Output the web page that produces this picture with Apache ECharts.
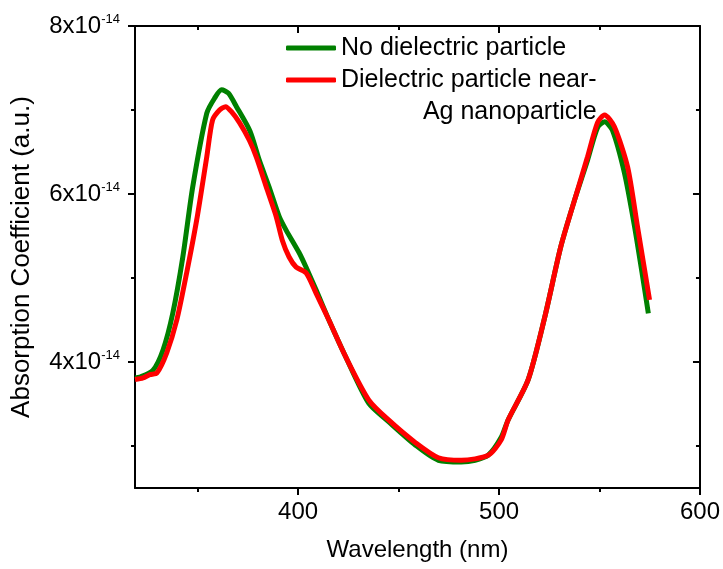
<!DOCTYPE html>
<html>
<head>
<meta charset="utf-8">
<script src="https://cdn.jsdelivr.net/npm/echarts@6/dist/echarts.min.js"></script>
<style>
html,body{margin:0;padding:0;background:#fff;}
#main{width:723px;height:569px;}
</style>
</head>
<body>
<div id="main"></div>
<script>
// values are in units of 1e-14
var seriesNames = ['No dielectric particle', 'Dielectric particle near-Ag nanoparticle'];

var noDielWl = [318.8, 321.3, 327.7, 332.7, 337.6, 342.6, 347.5, 354.5, 358.4, 361.9, 365.3, 369.3, 376.0, 380.7, 385.6, 390.6, 394.0, 400.5, 403.9, 408.9, 415.3, 423.7, 435.1, 445.0, 458.4, 469.8, 481.2, 488.1, 494.6, 501.0, 504.5, 514.5, 522.8, 530.7, 537.6, 544.0, 549.0, 552.5, 556.4, 562.4, 567.3, 571.3, 574.3];
var noDielAbs = [3.81, 3.82, 3.90, 4.14, 4.58, 5.25, 6.08, 6.96, 7.14, 7.24, 7.20, 7.04, 6.75, 6.40, 6.08, 5.73, 5.57, 5.30, 5.13, 4.86, 4.50, 4.06, 3.51, 3.29, 3.01, 2.83, 2.81, 2.83, 2.89, 3.10, 3.31, 3.79, 4.54, 5.37, 5.93, 6.40, 6.79, 6.86, 6.76, 6.25, 5.63, 5.04, 4.58];

var dielWl = [318.8, 322.8, 326.2, 329.7, 334.6, 339.6, 344.5, 349.5, 354.5, 357.4, 360.9, 363.9, 366.8, 370.8, 375.7, 379.2, 384.6, 389.1, 392.1, 395.5, 399.0, 404.0, 408.9, 415.3, 423.7, 435.1, 445.0, 458.4, 469.8, 481.2, 494.6, 501.0, 504.5, 514.5, 522.8, 530.7, 537.6, 544.0, 549.0, 552.5, 557.4, 564.0, 568.9, 574.9];
var dielAbs = [3.79, 3.81, 3.85, 3.87, 4.11, 4.50, 5.06, 5.69, 6.44, 6.88, 7.00, 7.04, 6.98, 6.85, 6.64, 6.44, 6.05, 5.73, 5.45, 5.25, 5.13, 5.06, 4.82, 4.50, 4.06, 3.55, 3.31, 3.04, 2.86, 2.83, 2.89, 3.07, 3.31, 3.79, 4.54, 5.37, 5.93, 6.44, 6.85, 6.94, 6.80, 6.32, 5.61, 4.74];

var xMajor = [400, 500, 600];
var xMinor = [350, 450, 550];
var yMajor = [4, 6, 8];
var yMinor = [3, 5, 7];

var FONT = 'Liberation Sans, Arial, sans-serif';

function pairs(xs, ys) {
	return xs.map(function(x, i) { return [x, ys[i]]; });
}

// one axis object, several copies for the box and minor ticks
function xAx(pos, ticks, len, inside, line, labels) {
	return {
		type: 'value', position: pos, min: 318.8, max: 600,
		axisLine: {show: line, onZero: false, lineStyle: {color: '#000', width: 2}},
		axisTick: {show: true, inside: inside, length: len, customValues: ticks, lineStyle: {color: '#000', width: 2}},
		axisLabel: {show: labels, customValues: ticks, margin: 12, color: '#000', fontSize: 24, fontFamily: FONT},
		splitLine: {show: false}
	};
}
function yAx(pos, ticks, len, inside, line, labels) {
	return {
		type: 'value', position: pos, min: 2.5, max: 8,
		axisLine: {show: line, onZero: false, lineStyle: {color: '#000', width: 2}},
		axisTick: {show: true, inside: inside, length: len, customValues: ticks, lineStyle: {color: '#000', width: 2}},
		axisLabel: {
			show: labels, customValues: ticks, margin: 15,
			formatter: function(v) { return '{a|' + v + 'x10}{b|-14}'; },
			rich: {
				a: {fontSize: 24, fontFamily: FONT, color: '#000'},
				b: {fontSize: 13, fontFamily: FONT, color: '#000', verticalAlign: 'top', padding: [0, 0, 14, 0]}
			}
		},
		splitLine: {show: false}
	};
}

var myChart = echarts.init(document.getElementById('main'));

var xAxes = [
	xAx('bottom', xMajor, 7, false, true, true),
	xAx('bottom', xMinor, 4, false, false, false),
	xAx('top', xMajor, 7, true, true, false),
	xAx('top', xMinor, 4, true, false, false)
];
xAxes[0].name = 'Wavelength (nm)';
xAxes[0].nameLocation = 'middle';
xAxes[0].nameGap = 50;
xAxes[0].nameTextStyle = {fontSize: 24, fontFamily: FONT, color: '#000'};

var yAxes = [
	yAx('left', yMajor, 7, false, true, true),
	yAx('left', yMinor, 4, false, false, false),
	yAx('right', yMajor, 7, true, true, false),
	yAx('right', yMinor, 4, true, false, false)
];
yAxes[0].name = 'Absorption Coefficient (a.u.)';
yAxes[0].nameLocation = 'middle';
yAxes[0].nameGap = 100;
yAxes[0].nameTextStyle = {fontSize: 26, fontFamily: FONT, color: '#000'};

var option = {
	animation: false,
	backgroundColor: '#fff',
	grid: {left: 135, right: 20, top: 26, bottom: 81, containLabel: false},
	legend: [{
		data: [seriesNames[0]],
		left: 286, top: 33, padding: 0,
		icon: 'roundRect', itemWidth: 50, itemHeight: 5, itemGap: 0,
		textStyle: {fontSize: 25, fontFamily: FONT, color: '#000', lineHeight: 30}
	}, {
		data: [seriesNames[1]],
		left: 286, top: 32, padding: 0,
		icon: 'roundRect', itemWidth: 50, itemHeight: 5, itemGap: 0,
		formatter: function() {
			return '{e|\u00a0}\n{a|Dielectric particle near-}\n{b|Ag nanoparticle}';
		},
		textStyle: {
			fontSize: 25, fontFamily: FONT, color: '#000', lineHeight: 32,
			rich: {
				e: {fontSize: 25, lineHeight: 32},
				a: {fontSize: 25, lineHeight: 32, fontFamily: FONT, color: '#000'},
				b: {fontSize: 25, lineHeight: 32, fontFamily: FONT, color: '#000', align: 'right'}
			}
		}
	}],
	xAxis: xAxes,
	yAxis: yAxes,
	series: [{
		name: seriesNames[0],
		type: 'line',
		data: pairs(noDielWl, noDielAbs),
		showSymbol: false,
		smooth: 0.25,
		color: '#008000',
		lineStyle: {width: 5, color: '#008000'}
	}, {
		name: seriesNames[1],
		type: 'line',
		data: pairs(dielWl, dielAbs),
		showSymbol: false,
		smooth: 0.25,
		color: '#ff0000',
		lineStyle: {width: 5, color: '#ff0000'}
	}]
};
myChart.setOption(option);
</script>
</body>
</html>
